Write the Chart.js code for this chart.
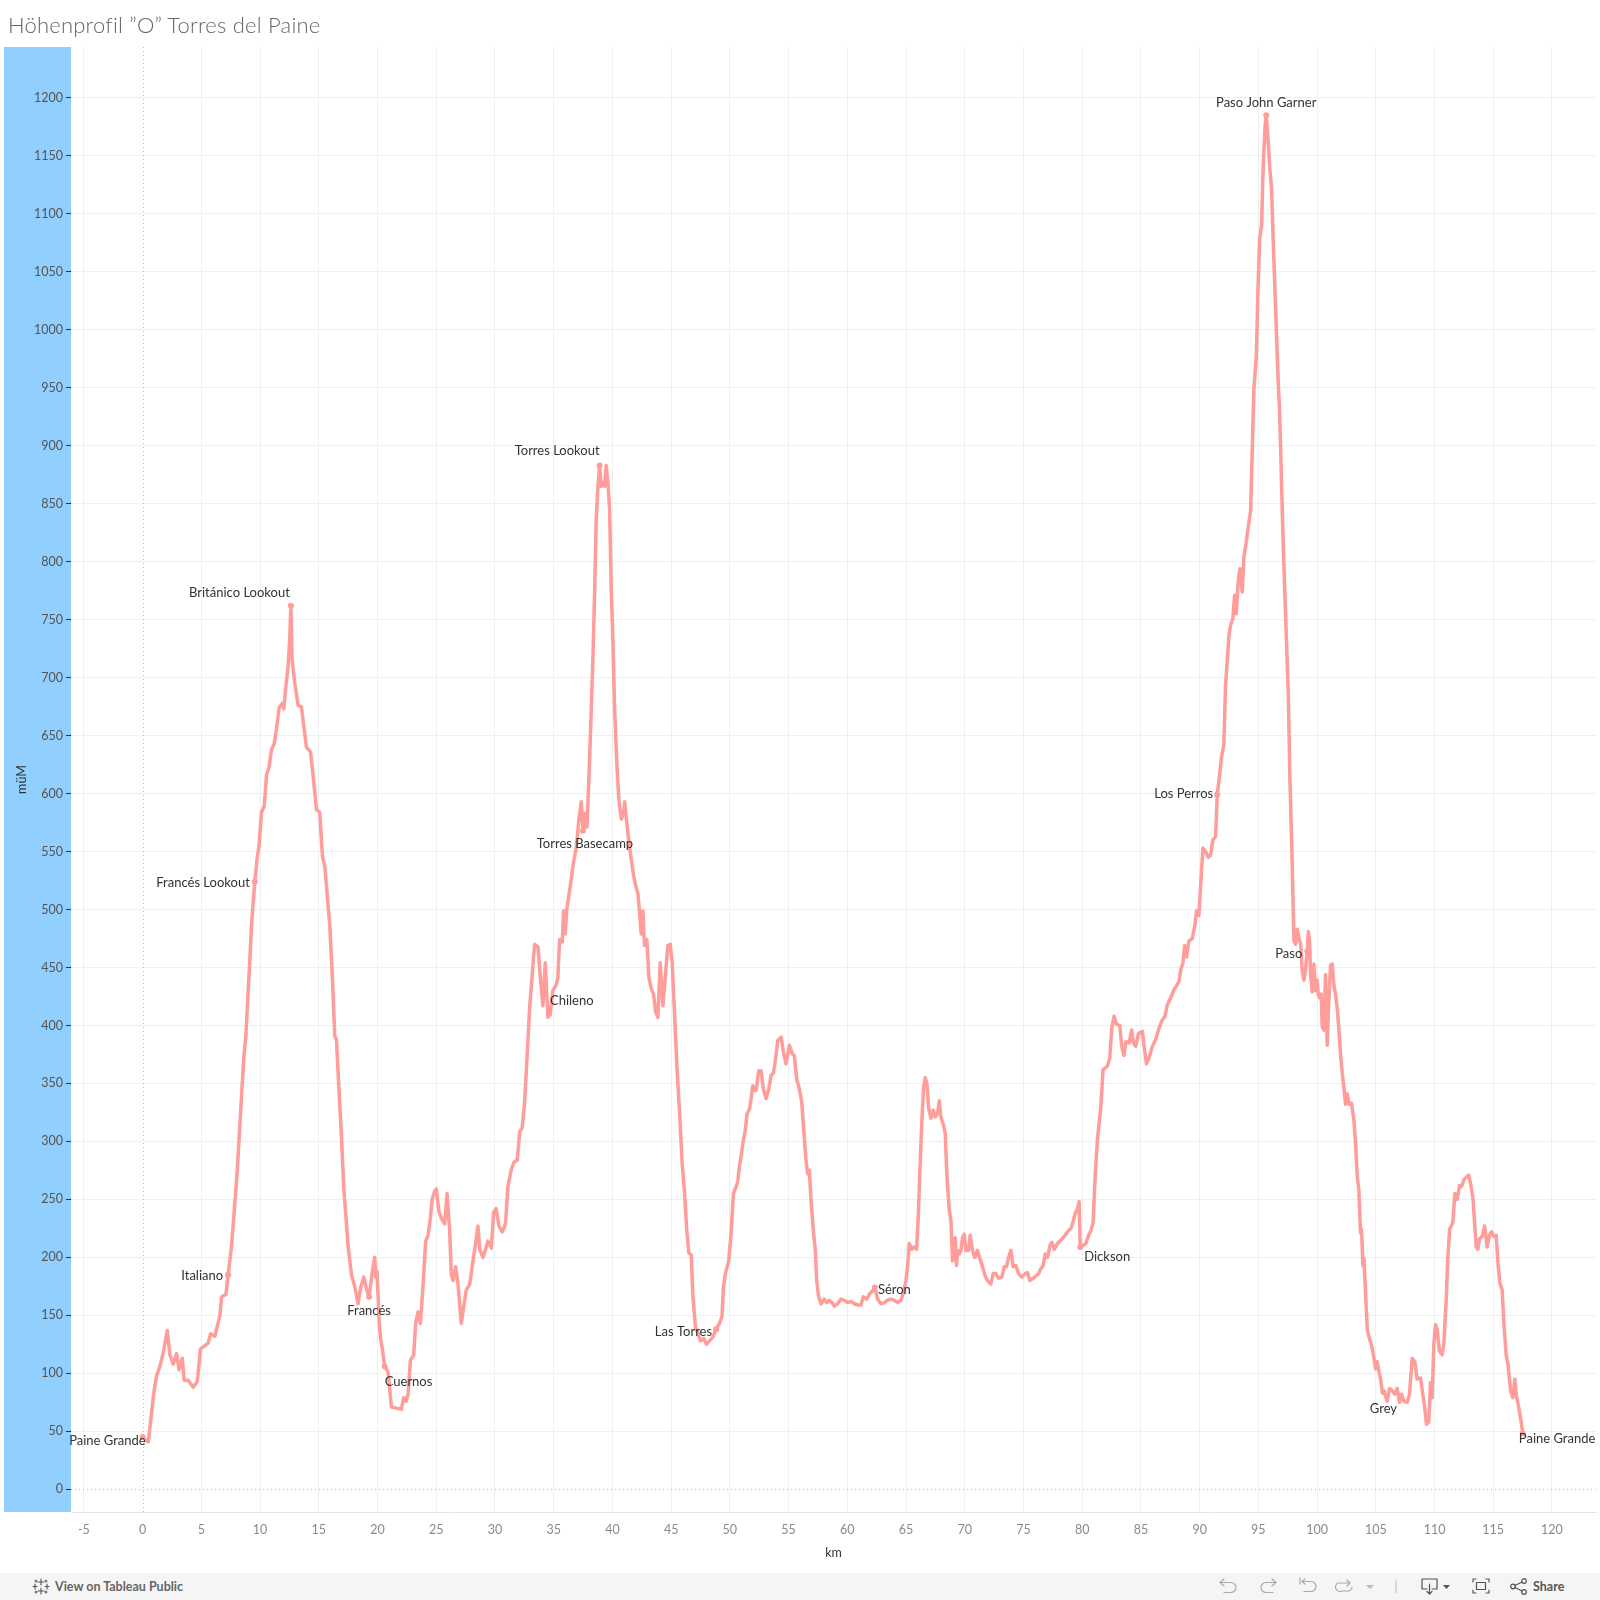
<!DOCTYPE html>
<html>
<head>
<meta charset="utf-8">
<script src="https://cdn.jsdelivr.net/npm/chart.js@4.4.1/dist/chart.umd.min.js"></script>
<style>
  body { margin: 0; background: #fff; width: 1600px; height: 1600px; position: relative; overflow: hidden; font-family: Lato, "Open Sans", sans-serif; }
  #chart { position: absolute; left: 0; top: 0; }
  #title { position: absolute; left: 8px; top: 12px; line-height: 26px; font-size: 22px; font-weight: 300; color: #666; letter-spacing: 0.2px; }
  #toolbar { position: absolute; left: 0; top: 1573px; width: 1600px; height: 27px; background: #f5f5f5; }
  #toolbar .public { position: absolute; left: 55px; top: 0; line-height: 27px; font-size: 12.5px; font-weight: 700; color: #666; }
  #toolbar .share { position: absolute; left: 1533px; top: 0; line-height: 27px; font-size: 12.5px; font-weight: 700; color: #555; }
  #toolbar svg { position: absolute; left: 0; top: 0; }
</style>
</head>
<body>
<canvas id="chart" width="1600" height="1573"></canvas>
<div id="title">Höhenprofil ”O” Torres del Paine</div>
<div id="toolbar">
  <svg width="1600" height="27" fill="none" stroke-linecap="round" stroke-linejoin="round">
    <g stroke="#555" stroke-width="1.1">
      <path d="M41 6 V12 M38 9 H44 M41 15 V21 M38 18 H44 M35 11 V16 M33 13.5 H37 M47 11 V16 M45 13.5 H49 M36 7 V9 M35 8 H37 M46 7 V9 M45 8 H47 M36 18 V20 M35 19 H37 M46 18 V20 M45 19 H47"/>
    </g>
    <g stroke="#aaa" stroke-width="1.2">
      <path d="M1224 6 L1220 9.5 L1224 13 M1220 9.5 H1231 A5 5 0 0 1 1231 19.5 H1224"/>
      <path d="M1272 6 L1276 9.5 L1272 13 M1276 9.5 H1266 A5 5 0 0 0 1266 19.5 H1273"/>
      <path d="M1300 5 V11 M1305 6 L1302 8.5 L1305 11 M1302 8.5 H1311 A5 5 0 0 1 1311 18.5 H1304"/>
      <path d="M1338 10 H1350 M1347 7 L1350 10 L1347 13 M1338 10 A4 4 0 0 0 1342 18 H1348 A4 4 0 0 0 1352 14"/>
    </g>
    <polygon points="1366,12 1374,12 1370,16" fill="#bbb"/>
    <line x1="1396" y1="7" x2="1396" y2="20" stroke="#bbb"/>
    <g stroke="#555" stroke-width="1.2">
      <path d="M1427 16 H1422 V6 H1437 V16 H1432 M1429.5 11 V21 M1427 18.5 L1429.5 21 L1432 18.5"/>
      <path d="M1473 9 V6 H1476 M1486 6 H1489 V9 M1489 17 V20 H1486 M1476 20 H1473 V17"/>
      <rect x="1476.5" y="9.5" width="9" height="7"/>
      <circle cx="1524" cy="8" r="2.3"/><circle cx="1513" cy="13.5" r="2.3"/><circle cx="1524" cy="19" r="2.3"/>
      <path d="M1515 12.5 L1522 9 M1515 14.5 L1522 18"/>
    </g>
    <polygon points="1443,12 1450,12 1446.5,16" fill="#555"/>
  </svg>
  <span class="public">View on Tableau Public</span>
  <span class="share">Share</span>
</div>
<script>
// Höhenprofil: Distanz in km, Höhe in m ü. M.
const kmValues = [
  0, 0.2, 0.48, 0.76, 0.96, 1.19, 1.47, 1.76, 2.1, 2.32, 2.6, 2.89, 3.1, 3.37, 3.54, 3.88, 4.31, 4.65, 4.93, 5.58,
  5.78, 6.15, 6.58, 6.72, 7.09, 7.28, 7.57, 7.8, 8.05, 8.22, 8.42, 8.62, 8.79, 8.9, 9.13, 9.27, 9.55, 9.75, 9.92, 10.12,
  10.35, 10.55, 10.77, 10.97, 11.2, 11.4, 11.62, 11.9, 12.02, 12.19, 12.39, 12.53, 12.62, 12.73, 12.96, 13.24, 13.52, 13.72, 13.95, 14.29,
  14.46, 14.8, 15.08, 15.31, 15.51, 15.93, 16.13, 16.36, 16.5, 16.7, 16.93, 17.13, 17.35, 17.49, 17.78, 18.06, 18.34, 18.54, 18.83, 19.05,
  19.28, 19.56, 19.76, 19.85, 19.96, 20.13, 20.25, 20.41, 20.61, 20.9, 21.18, 21.6, 22.03, 22.23, 22.45, 22.6, 22.8, 23.08, 23.25, 23.45,
  23.65, 23.87, 24.1, 24.3, 24.5, 24.67, 24.87, 25.0, 25.24, 25.52, 25.72, 25.92, 26.14, 26.28, 26.43, 26.65, 26.85, 27.13, 27.33, 27.56,
  27.85, 28.13, 28.35, 28.55, 28.7, 28.98, 29.2, 29.4, 29.69, 29.89, 30.1, 30.34, 30.62, 30.9, 31.1, 31.39, 31.62, 31.9, 32.1, 32.32,
  32.52, 32.72, 32.95, 33.18, 33.38, 33.66, 33.86, 34.08, 34.28, 34.51, 34.71, 34.93, 35.22, 35.36, 35.5, 35.73, 35.84, 35.98, 36.12, 36.35,
  36.49, 36.69, 36.92, 37.15, 37.35, 37.49, 37.69, 37.83, 38.0, 38.2, 38.34, 38.48, 38.62, 38.77, 38.91, 39.05, 39.19, 39.33, 39.47, 39.62,
  39.76, 39.9, 40.04, 40.19, 40.39, 40.56, 40.76, 40.96, 41.04, 41.24, 41.41, 41.61, 41.81, 42.02, 42.17, 42.3, 42.45, 42.6, 42.73, 42.93,
  43.1, 43.3, 43.5, 43.67, 43.87, 44.07, 44.3, 44.5, 44.72, 44.92, 45.09, 45.29, 45.49, 45.71, 45.94, 46.14, 46.34, 46.51, 46.71, 46.85,
  47.07, 47.27, 47.5, 47.8, 48.0, 48.26, 48.54, 48.83, 49.11, 49.33, 49.45, 49.62, 49.9, 50.1, 50.3, 50.53, 50.67, 50.81, 51.01, 51.15,
  51.32, 51.47, 51.67, 51.81, 51.95, 52.09, 52.23, 52.46, 52.66, 52.86, 53.08, 53.31, 53.51, 53.71, 53.88, 54.08, 54.36, 54.56, 54.78, 55.07,
  55.3, 55.49, 55.69, 55.92, 56.12, 56.29, 56.48, 56.63, 56.77, 56.91, 57.11, 57.28, 57.39, 57.56, 57.76, 58.04, 58.24, 58.47, 58.69, 58.89,
  59.18, 59.46, 59.74, 60.03, 60.31, 60.6, 60.88, 61.16, 61.36, 61.64, 61.93, 62.15, 62.35, 62.58, 62.87, 63.15, 63.43, 63.72, 64.0, 64.28,
  64.57, 64.77, 64.99, 65.13, 65.28, 65.48, 65.7, 65.9, 66.04, 66.18, 66.35, 66.5, 66.64, 66.78, 66.92, 67.12, 67.32, 67.49, 67.69, 67.83,
  67.97, 68.17, 68.34, 68.45, 68.54, 68.68, 68.82, 68.96, 69.1, 69.19, 69.3, 69.39, 69.53, 69.67, 69.81, 69.96, 70.1, 70.32, 70.46, 70.66,
  70.86, 71.09, 71.29, 71.51, 71.74, 71.94, 72.22, 72.42, 72.65, 72.87, 73.16, 73.36, 73.56, 73.73, 73.93, 74.13, 74.35, 74.58, 74.86, 75.14,
  75.34, 75.54, 75.83, 76.05, 76.28, 76.48, 76.68, 76.85, 77.05, 77.25, 77.42, 77.62, 77.9, 78.19, 78.47, 78.75, 79.04, 79.18, 79.41, 79.6,
  79.74, 79.83, 80.03, 80.31, 80.54, 80.74, 80.93, 81.1, 81.3, 81.58, 81.78, 82.15, 82.35, 82.52, 82.72, 82.92, 83.2, 83.37, 83.56, 83.71,
  83.99, 84.22, 84.36, 84.56, 84.79, 85.13, 85.27, 85.47, 85.69, 85.98, 86.26, 86.55, 86.83, 87.05, 87.25, 87.54, 87.82, 88.02, 88.24, 88.39,
  88.58, 88.72, 88.89, 89.09, 89.38, 89.6, 89.74, 89.94, 90.08, 90.28, 90.51, 90.74, 90.93, 91.13, 91.36, 91.5, 91.7, 91.87, 92.06, 92.2,
  92.35, 92.5, 92.63, 92.83, 92.98, 93.12, 93.29, 93.43, 93.63, 93.77, 93.97, 94.14, 94.34, 94.48, 94.62, 94.82, 94.97, 95.11, 95.28, 95.39,
  95.56, 95.67, 95.81, 95.96, 96.13, 96.27, 96.41, 96.55, 96.69, 96.81, 96.95, 97.09, 97.26, 97.4, 97.55, 97.69, 97.83, 97.94, 98.03, 98.17,
  98.31, 98.46, 98.6, 98.74, 98.88, 99.02, 99.17, 99.25, 99.36, 99.45, 99.59, 99.73, 99.88, 100.01, 100.1, 100.21, 100.35, 100.44, 100.58, 100.72,
  100.86, 101.0, 101.15, 101.29, 101.43, 101.57, 101.71, 101.86, 102.0, 102.14, 102.28, 102.42, 102.57, 102.71, 102.93, 103.13, 103.28, 103.42, 103.56, 103.7,
  103.79, 103.9, 103.99, 104.13, 104.27, 104.41, 104.55, 104.69, 104.84, 104.98, 105.12, 105.26, 105.41, 105.55, 105.77, 105.97, 106.17, 106.4, 106.62, 106.82,
  107.02, 107.19, 107.39, 107.67, 107.87, 108.1, 108.32, 108.52, 108.81, 109.0, 109.17, 109.31, 109.51, 109.66, 109.8, 109.94, 110.08, 110.22, 110.42, 110.65,
  110.79, 110.99, 111.13, 111.28, 111.42, 111.56, 111.73, 111.93, 112.13, 112.3, 112.5, 112.7, 112.92, 113.12, 113.29, 113.43, 113.55, 113.69, 113.83, 114.06,
  114.26, 114.48, 114.68, 114.85, 115.05, 115.25, 115.42, 115.56, 115.76, 115.9, 116.1, 116.27, 116.47, 116.67, 116.84, 116.95, 117.18, 117.38, 117.52
];
const elevValues = [
  45, 43, 41, 66, 84, 98, 106, 118, 137, 116, 108, 117, 103, 113, 94, 94, 88, 93, 121, 126,
  134, 132, 150, 166, 168, 185, 210, 240, 274, 304, 339, 373, 391, 413, 457, 487, 524, 544, 556, 584,
  589, 616, 623, 638, 643, 656, 674, 678, 673, 692, 710, 735, 762, 715, 695, 676, 675, 658, 640, 636,
  621, 586, 584, 546, 537, 487, 447, 391, 388, 348, 304, 259, 230, 210, 185, 175, 160, 173, 183, 173,
  166, 188, 200, 183, 188, 146, 131, 121, 106, 101, 71, 70, 69, 79, 76, 82, 111, 116, 143, 153,
  143, 175, 214, 219, 234, 251, 257, 259, 239, 232, 229, 255, 224, 185, 180, 192, 177, 143, 157, 172,
  177, 197, 212, 227, 207, 200, 207, 214, 208, 239, 242, 227, 222, 229, 261, 276, 282, 284, 308, 312,
  333, 370, 415, 445, 470, 468, 442, 417, 454, 407, 410, 430, 435, 442, 474, 472, 499, 479, 501, 516,
  526, 541, 553, 578, 593, 568, 583, 571, 613, 672, 717, 771, 836, 865, 883, 865, 868, 865, 883, 868,
  845, 776, 732, 672, 623, 593, 578, 583, 593, 573, 558, 543, 529, 519, 514, 499, 479, 499, 469, 474,
  442, 432, 427, 412, 407, 454, 417, 442, 469, 470, 454, 410, 365, 326, 281, 256, 222, 204, 202, 167,
  140, 135, 128, 130, 125, 128, 131, 138, 143, 149, 174, 186, 197, 220, 255, 261, 265, 278, 291, 301,
  310, 324, 328, 337, 348, 344, 344, 361, 361, 345, 337, 345, 357, 359, 370, 387, 390, 377, 367, 383,
  376, 374, 354, 345, 334, 310, 284, 272, 275, 249, 223, 206, 180, 166, 160, 164, 161, 163, 161, 158,
  160, 164, 163, 161, 162, 160, 159, 159, 166, 164, 169, 171, 174, 164, 160, 161, 163, 164, 163, 161,
  163, 169, 180, 192, 212, 207, 209, 207, 235, 275, 318, 347, 355, 350, 329, 320, 327, 321, 324, 335,
  321, 315, 307, 278, 261, 241, 232, 197, 206, 217, 193, 206, 203, 206, 217, 220, 206, 206, 219, 206,
  200, 206, 199, 192, 184, 180, 177, 186, 186, 182, 183, 192, 192, 200, 206, 192, 193, 186, 183, 186,
  187, 180, 182, 184, 186, 190, 193, 203, 200, 210, 213, 207, 212, 215, 218, 222, 225, 229, 238, 242,
  248, 209, 210, 212, 219, 223, 230, 269, 302, 329, 362, 365, 372, 398, 408, 401, 400, 382, 374, 386,
  385, 396, 385, 382, 393, 395, 382, 367, 372, 382, 388, 398, 405, 408, 418, 424, 431, 434, 438, 448,
  454, 469, 459, 473, 475, 487, 499, 495, 520, 553, 550, 545, 547, 560, 563, 599, 616, 632, 642, 692,
  715, 737, 745, 751, 771, 755, 784, 794, 774, 804, 817, 830, 844, 896, 949, 976, 1035, 1078, 1091, 1134,
  1174, 1185, 1167, 1141, 1121, 1075, 1035, 995, 956, 929, 877, 824, 771, 731, 685, 612, 560, 514, 473, 470,
  483, 475, 470, 447, 439, 449, 464, 481, 473, 444, 429, 453, 430, 439, 427, 424, 427, 399, 396, 444,
  383, 421, 452, 453, 435, 427, 415, 396, 375, 359, 347, 332, 341, 332, 333, 319, 298, 270, 258, 221,
  224, 193, 199, 169, 138, 132, 127, 122, 113, 104, 110, 102, 95, 85, 82, 76, 87, 85, 82, 87,
  75, 82, 76, 75, 82, 113, 110, 95, 96, 82, 70, 56, 58, 92, 79, 125, 142, 138, 119, 116,
  125, 162, 199, 224, 227, 230, 255, 250, 262, 261, 267, 269, 271, 261, 249, 227, 209, 207, 216, 218,
  227, 209, 219, 222, 218, 219, 193, 178, 172, 144, 116, 107, 85, 79, 95, 82, 70, 58, 48
];

// benannte Orte (Marker + Beschriftung)
const placeNames = ['Paine Grande', 'Italiano', 'Francés Lookout', 'Británico Lookout', 'Francés', 'Cuernos',
  'Chileno', 'Torres Lookout', 'Torres Basecamp', 'Las Torres', 'Séron', 'Dickson', 'Los Perros',
  'Paso John Garner', 'Paso', 'Grey', 'Paine Grande'];
const placeKm = [0, 7.28, 9.55, 12.62, 19.28, 20.61, 34.6, 38.91, 37.49, 48.83, 62.35, 79.83, 91.5, 95.67, 99.17, 105.65, 117.52];
const placeElev = [45, 185, 524, 762, 166, 106, 410, 883, 568, 138, 174, 209, 599, 1185, 464, 84, 48];

const xTickValues = [-5, 0, 5, 10, 15, 20, 25, 30, 35, 40, 45, 50, 55, 60, 65, 70, 75, 80, 85, 90, 95, 100, 105, 110, 115, 120];
const yTickValues = [0, 50, 100, 150, 200, 250, 300, 350, 400, 450, 500, 550, 600, 650, 700, 750, 800, 850, 900, 950,
  1000, 1050, 1100, 1150, 1200];

// Ausrichtung der Beschriftungen relativ zum Marker (Pixel)
const labelStyle = [
  {align: 'right', dx: 3, dy: 4},
  {align: 'right', dx: -5, dy: 1},
  {align: 'right', dx: -5, dy: 1},
  {align: 'right', dx: -1, dy: -13},
  {align: 'center', dx: 0, dy: 14},
  {align: 'left', dx: 0, dy: 15},
  {align: 'left', dx: 1, dy: -13},
  {align: 'right', dx: 0, dy: -15},
  {align: 'center', dx: 2, dy: 13},
  {align: 'right', dx: -4, dy: 3},
  {align: 'left', dx: 3, dy: 2},
  {align: 'left', dx: 4, dy: 10},
  {align: 'right', dx: -4, dy: -1},
  {align: 'center', dx: 0, dy: -12},
  {align: 'right', dx: -5, dy: 3},
  {align: 'center', dx: 0, dy: 17},
  {align: 'left', dx: -4, dy: 5}
];

const lineColor = '#ff9d9a';
const bandColor = '#91cffe';
const gridColor = '#efefef';
const fontFamily = 'Lato, "Open Sans", sans-serif';

const axisBand = {
  id: 'axisBand',
  beforeDraw(chart) {
    const {ctx, chartArea, scales} = chart;
    ctx.save();
    ctx.fillStyle = bandColor;
    ctx.fillRect(scales.y.left, chartArea.top, chartArea.left - scales.y.left, chartArea.bottom - chartArea.top);
    ctx.restore();
  }
};

const zeroLines = {
  id: 'zeroLines',
  beforeDatasetsDraw(chart) {
    const {ctx, chartArea, scales: {x, y}} = chart;
    const x0 = Math.round(x.getPixelForValue(0)) + 0.5;
    const y0 = Math.round(y.getPixelForValue(0)) + 0.5;
    ctx.save();
    ctx.strokeStyle = '#bbb';
    ctx.lineWidth = 1;
    ctx.setLineDash([1, 3]);
    ctx.beginPath();
    ctx.moveTo(x0, chartArea.top);
    ctx.lineTo(x0, chartArea.bottom);
    ctx.moveTo(chartArea.left, y0);
    ctx.lineTo(chartArea.right, y0);
    ctx.stroke();
    ctx.restore();
  }
};

const placeLabels = {
  id: 'placeLabels',
  afterDatasetsDraw(chart) {
    const {ctx, scales: {x, y}} = chart;
    ctx.save();
    ctx.font = '13px ' + fontFamily;
    ctx.fillStyle = '#333';
    ctx.textBaseline = 'middle';
    placeNames.forEach((name, i) => {
      const s = labelStyle[i];
      ctx.textAlign = s.align;
      ctx.fillText(name, x.getPixelForValue(placeKm[i]) + s.dx, y.getPixelForValue(placeElev[i]) + s.dy);
    });
    ctx.restore();
  }
};

const profile = kmValues.map((km, i) => ({x: km, y: elevValues[i]}));
const places = placeKm.map((km, i) => ({x: km, y: placeElev[i]}));

new Chart(document.getElementById('chart'), {
  type: 'line',
  data: {
    datasets: [
      {
        data: profile,
        borderColor: lineColor,
        borderWidth: 3.5,
        borderJoinStyle: 'round',
        borderCapStyle: 'round',
        pointRadius: 0,
        tension: 0,
        fill: false
      },
      {
        type: 'scatter',
        data: places,
        backgroundColor: lineColor,
        borderColor: lineColor,
        pointRadius: 3,
        borderWidth: 0
      }
    ]
  },
  options: {
    responsive: false,
    animation: false,
    layout: {padding: {left: 4, top: 47, right: 3, bottom: 0}},
    plugins: {legend: {display: false}, tooltip: {enabled: false}},
    scales: {
      x: {
        type: 'linear',
        min: -6.1,
        max: 123.75,
        afterBuildTicks: scale => { scale.ticks = xTickValues.map(v => ({value: v})); },
        afterFit: scale => { scale.height = 61; },
        grid: {
          color: ctx => (ctx.tick && ctx.tick.value === 0) ? 'rgba(0,0,0,0)' : gridColor,
          drawTicks: false
        },
        border: {display: true, color: '#e4e4e4'},
        ticks: {
          color: '#8a8a8a',
          font: {family: fontFamily, size: 12.5},
          padding: 10,
          maxRotation: 0,
          autoSkip: false,
          callback: v => String(v)
        },
        title: {
          display: true,
          text: 'km',
          color: '#333',
          font: {family: fontFamily, size: 12.5},
          padding: {top: 0, bottom: 13}
        }
      },
      y: {
        type: 'linear',
        min: -19.6,
        max: 1243.9,
        afterBuildTicks: scale => { scale.ticks = yTickValues.map(v => ({value: v})); },
        afterFit: scale => { scale.width = 67; },
        grid: {
          color: ctx => (ctx.tick && ctx.tick.value === 0) ? 'rgba(0,0,0,0)' : gridColor,
          drawTicks: true,
          tickLength: 5,
          tickColor: '#333',
          tickWidth: 1
        },
        border: {display: false},
        ticks: {
          color: '#555',
          font: {family: fontFamily, size: 12.5},
          padding: 3,
          autoSkip: false,
          callback: v => String(v)
        },
        title: {
          display: true,
          text: 'müM',
          color: '#333',
          font: {family: fontFamily, size: 12.5},
          padding: {top: 10, bottom: 0}
        }
      }
    }
  },
  plugins: [axisBand, zeroLines, placeLabels]
});
</script>
</body>
</html>
